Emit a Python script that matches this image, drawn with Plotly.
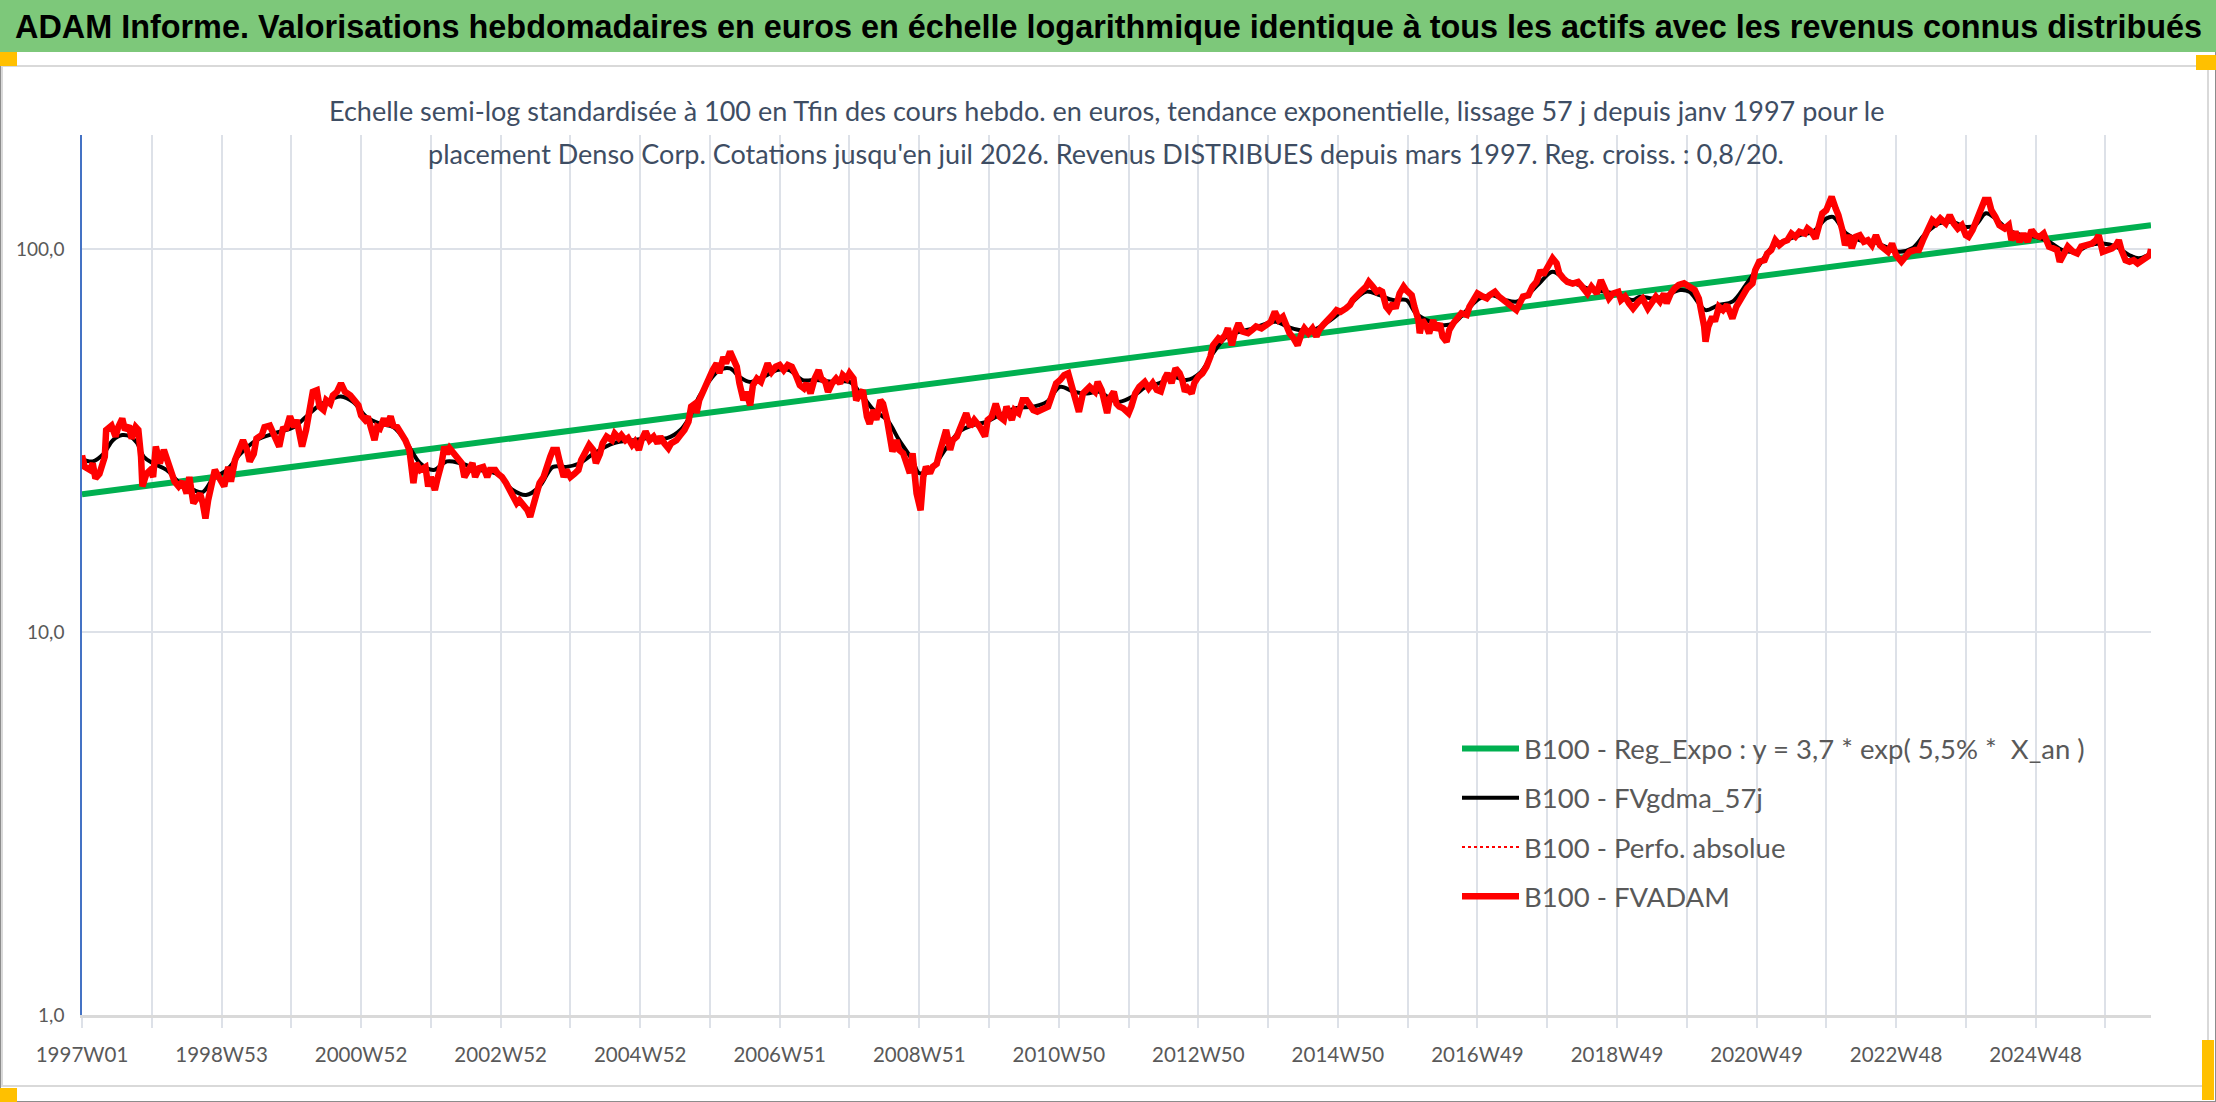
import plotly.graph_objects as go

# ---------------- DATA ----------------
# x = week index since 1997W01 ; values standardised to 100 at the end
tick_labels = ["1997W01", "1998W53", "2000W52", "2002W52", "2004W52", "2006W51", "2008W51",
               "2010W50", "2012W50", "2014W50", "2016W49", "2018W49", "2020W49", "2022W48", "2024W48"]
n_weeks = 1542

reg_weeks = [0, 1542]
reg_values = [22.9, 115.5]

fv_weeks = [
    0, 2, 6, 8, 10, 13, 17, 18, 22, 25,
    27, 30, 32, 35, 37, 40, 42, 44, 45, 48,
    51, 53, 55, 58, 61, 64, 66, 69, 72, 75,
    78, 80, 83, 86, 88, 90, 92, 94, 97, 99,
    102, 104, 106, 109, 111, 114, 117, 120, 123, 125,
    128, 130, 134, 136, 140, 143, 145, 147, 150, 152,
    155, 158, 160, 162, 164, 167, 169, 172, 175, 177,
    180, 182, 185, 187, 190, 193, 196, 200, 203, 206,
    208, 211, 213, 216, 218, 220, 222, 225, 227, 230,
    232, 235, 238, 241, 244, 246, 247, 249, 252, 256,
    258, 260, 263, 265, 268, 270, 272, 274, 277, 280,
    283, 285, 288, 291, 293, 296, 299, 302, 304, 308,
    310, 313, 316, 319, 322, 324, 326, 329, 332, 334,
    336, 339, 341, 344, 346, 349, 351, 354, 356, 359,
    361, 364, 367, 370, 372, 375, 378, 381, 383, 386,
    388, 391, 395, 397, 400, 402, 405, 407, 410, 412,
    415, 417, 420, 423, 426, 429, 431, 434, 437, 439,
    443, 446, 449, 452, 454, 457, 458, 460, 464, 467,
    470, 473, 475, 478, 480, 483, 485, 488, 490, 493,
    495, 498, 500, 503, 506, 508, 511, 514, 517, 520,
    523, 526, 529, 532, 535, 538, 540, 543, 546, 549,
    551, 554, 556, 559, 562, 565, 567, 570, 572, 575,
    577, 580, 582, 585, 587, 590, 592, 595, 597, 600,
    602, 604, 607, 609, 612, 614, 617, 619, 621, 622,
    625, 627, 629, 632, 634, 637, 639, 642, 644, 647,
    649, 652, 654, 657, 659, 662, 665, 669, 673, 675,
    678, 681, 684, 687, 689, 693, 695, 698, 701, 704,
    706, 709, 712, 716, 720, 723, 726, 729, 732, 735,
    737, 740, 743, 746, 749, 751, 755, 757, 760, 762,
    764, 766, 769, 771, 773,
    776, 780, 782, 785, 788, 792, 795, 798, 801, 804,
    807, 809, 812, 815, 818, 820, 822, 824, 827, 829,
    832, 835, 838, 841, 843, 847, 849, 852, 854, 857,
    859, 862, 865, 869, 872, 875, 879, 883, 886, 889,
    892, 895, 898, 900, 903, 906, 909, 911, 914, 917,
    920, 922, 925, 929, 932, 935, 938, 942, 945, 947,
    950, 953, 957, 959, 962, 965, 967, 969, 972, 974,
    977, 979, 982, 985, 987, 991, 993, 996, 997, 999,
    1002, 1004, 1007, 1009, 1012, 1014, 1017, 1019, 1022, 1025,
    1028, 1032, 1034, 1037, 1040, 1044, 1047, 1049, 1053, 1056,
    1059, 1063, 1066, 1069, 1071, 1074, 1078, 1081, 1084, 1087,
    1089, 1092, 1096, 1099, 1101, 1104, 1107, 1111, 1115, 1118,
    1122, 1125, 1129, 1132, 1135, 1138, 1141, 1145, 1147, 1150,
    1153, 1156, 1160,
    1163, 1167, 1170, 1173, 1176, 1179, 1181, 1184, 1187, 1190,
    1194, 1198, 1202, 1205, 1207, 1209, 1210, 1212, 1215, 1217,
    1220, 1223, 1226, 1228, 1230, 1233, 1235, 1238, 1241, 1245,
    1247, 1250, 1254, 1256, 1259, 1262, 1265, 1268, 1271, 1274,
    1277, 1280, 1284, 1286, 1289, 1292, 1294, 1297, 1300, 1302,
    1304, 1307, 1309, 1312, 1314, 1317, 1319, 1322, 1325, 1328,
    1331, 1334, 1337, 1340, 1343, 1346, 1349, 1352, 1356, 1359,
    1362, 1366, 1369, 1372, 1375, 1379, 1382, 1385, 1389, 1392,
    1395, 1398, 1401, 1404, 1406, 1409, 1412, 1415, 1418, 1421,
    1423, 1426, 1429, 1433, 1436, 1438, 1441, 1444, 1447, 1450,
    1453, 1456, 1459, 1462, 1466, 1469, 1472, 1474, 1477, 1480,
    1484, 1487, 1490, 1494, 1498, 1501, 1503, 1506, 1510, 1513,
    1516, 1518, 1520, 1523, 1526, 1529, 1532, 1535, 1538, 1541,
    1542,
]
fv_values = [
    28.9, 27.0, 26.5, 27.6, 25.2, 25.9, 28.7, 33.7, 34.6, 32.4,
    34.3, 36.1, 33.7, 34.6, 32.0, 34.3, 33.7, 28.7, 24.0, 25.9,
    26.5, 25.4, 30.5, 27.6, 29.9, 27.6, 26.5, 24.7, 24.0, 24.7,
    23.0, 25.4, 21.7, 22.5, 23.0, 21.7, 19.8, 22.1, 25.4, 26.5,
    25.4, 24.7, 24.0, 27.0, 24.7, 28.1, 29.9, 31.7, 29.9, 27.9,
    29.2, 32.0, 32.7, 34.3, 34.6, 33.0, 31.7, 30.5, 34.3, 33.7,
    36.6, 34.3, 35.8, 32.4, 30.5, 33.7, 38.0, 42.4, 42.8, 38.8,
    38.0, 40.3, 39.5, 41.5, 42.4, 44.6, 42.4, 41.5, 40.3, 39.1,
    36.8, 35.8, 36.5, 33.7, 31.7, 34.3, 34.0, 36.1, 34.6, 36.6,
    34.6, 34.3, 33.0, 31.7, 29.9, 26.5, 24.5, 27.6, 26.5, 27.0,
    24.0, 25.4, 23.5, 25.2, 27.6, 30.5, 29.2, 30.2, 29.2, 28.1,
    27.6, 25.4, 26.5, 27.6, 25.4, 26.8, 27.0, 25.4, 26.5, 26.5,
    25.9, 25.4, 24.5, 23.5, 22.5, 21.7, 22.1, 21.4, 20.8, 20.0,
    21.3, 23.0, 24.5, 25.4, 27.0, 28.7, 29.9, 29.9, 27.9, 25.4,
    26.5, 25.4, 25.9, 26.5, 28.1, 29.6, 30.8, 29.9, 27.6, 29.2,
    31.1, 32.4, 31.7, 33.0, 32.1, 32.7, 31.7, 32.1, 30.8, 31.4,
    29.9, 31.7, 33.4, 31.7, 32.4, 31.1, 32.4, 31.1, 30.2, 31.1,
    31.7, 32.7, 33.7, 35.4, 38.8, 39.5, 37.3, 40.3, 43.7, 46.4,
    48.3, 50.3, 47.4, 52.3, 50.3, 54.0, 52.3, 49.3, 44.6, 40.3,
    42.4, 39.1, 44.1, 45.9, 45.0, 46.9, 50.3, 47.8, 49.3, 49.8,
    48.3, 49.8, 49.3, 46.9, 44.1, 43.3, 44.6, 42.0, 45.9, 48.3,
    45.9, 45.0, 42.4, 44.6, 45.9, 44.6, 46.9, 45.9, 47.4, 45.9,
    40.3, 42.0, 42.8, 36.5, 35.0, 38.0, 35.8, 40.3, 39.5, 35.8,
    32.4, 29.6, 31.7, 29.9, 29.3, 27.5, 26.0, 29.3, 25.4, 23.0,
    20.8, 25.4, 27.0, 26.0, 27.0, 27.5, 29.3, 32.4, 33.7, 29.9,
    31.7, 32.4, 33.7, 35.8, 37.3, 34.4, 35.8, 34.4, 32.4, 35.8,
    36.5, 39.5, 36.5, 35.8, 38.8, 35.8, 38.0, 37.3, 40.3, 40.3,
    39.1, 38.0, 37.6, 38.4, 38.8, 41.6, 44.6, 45.5, 46.9, 47.4,
    44.6, 41.2, 37.6, 42.0, 42.8, 43.7, 42.4, 45.0, 42.8, 39.5,
    37.3, 40.8, 42.4, 39.5, 38.8,
    38.4, 37.3, 38.8, 42.0, 43.7, 45.0, 43.3, 44.7, 42.9, 42.5,
    46.0, 47.4, 44.7, 48.8, 47.4, 45.5, 42.5, 43.3, 42.0, 44.7,
    46.4, 47.4, 49.3, 52.4, 56.1, 58.5, 57.9, 59.7, 62.1, 56.1,
    60.3, 64.0, 60.9, 60.3, 61.5, 62.8, 62.1, 63.4, 64.6, 68.6,
    65.3, 66.6, 61.5, 60.3, 58.5, 56.1, 60.3, 62.1, 60.3, 62.1,
    59.1, 61.5, 63.4, 65.3, 67.3, 69.3, 68.6, 70.0, 71.5, 73.6,
    75.8, 77.4, 79.8, 82.1, 79.8, 77.4, 78.1, 77.4, 70.7, 69.3,
    72.2, 70.0, 76.6, 79.8, 78.1, 75.8, 70.7, 65.3, 60.3, 65.3,
    62.8, 60.3, 65.3, 61.5, 64.0, 59.1, 57.3, 61.5, 64.0, 66.0,
    68.0, 67.3, 70.7, 73.6, 76.6, 75.2, 74.4, 75.8, 77.4, 75.2,
    73.6, 72.2, 70.7, 69.3, 71.5, 75.2, 75.8, 79.8, 82.1, 88.1,
    85.6, 89.9, 94.6, 91.8, 86.5, 83.9, 82.1, 81.3, 82.1, 79.8,
    76.6, 79.8, 76.6, 83.0, 78.1, 74.4, 76.6, 77.4, 73.6, 75.2,
    72.2, 70.0, 72.9,
    74.3, 70.0, 72.9, 75.1, 72.9, 76.5, 72.2, 76.5, 79.0, 80.6,
    81.4, 79.8, 78.2, 74.3, 69.3, 62.7, 57.3, 62.7, 66.6, 64.7,
    70.8, 69.3, 71.5, 69.3, 65.9, 70.8, 72.9, 76.5, 79.0, 81.4,
    88.1, 92.7, 93.6, 97.4, 99.4, 105.5, 102.4, 104.5, 105.5, 109.8,
    107.7, 111.0, 109.8, 113.2, 111.0, 106.6, 114.3, 124.0, 126.4, 131.5,
    137.0, 127.6, 122.7, 112.1, 102.4, 108.7, 100.5, 107.7, 108.7, 104.5,
    105.5, 102.4, 108.7, 102.4, 100.5, 98.4, 103.4, 96.4, 92.7, 96.4,
    98.4, 99.4, 99.4, 105.5, 112.1, 119.0, 116.7, 120.2, 116.7, 122.7,
    116.7, 113.2, 115.5, 108.7, 107.7, 112.1, 119.0, 127.6, 134.3, 134.3,
    126.4, 121.4, 115.5, 113.2, 115.5, 105.5, 111.0, 104.5, 109.8, 104.5,
    112.1, 108.7, 107.7, 109.8, 101.5, 100.5, 99.4, 92.7, 97.4, 101.5,
    98.4, 97.4, 101.5, 102.4, 103.4, 105.5, 108.7, 98.4, 99.4, 100.5,
    102.4, 105.5, 99.4, 93.6, 92.7, 93.6, 91.8, 93.6, 94.6, 96.4,
    100.0,
]

gdma_weeks = [
    0, 8, 16, 23, 30, 36, 41, 46, 53, 63,
    73, 83, 90, 98, 108, 118, 130, 143, 158, 167,
    177, 187, 193, 202, 212, 222, 232, 242, 252, 262,
    272, 282, 297, 309, 321, 331, 341, 351, 361, 371,
    381, 396, 411, 423, 436, 446, 453, 460, 468, 475,
    483, 490, 498, 508, 518, 527, 537, 547, 560, 572,
    582, 590, 600, 609, 619, 624, 634, 644, 654, 664,
    674, 684, 696, 709, 719, 729, 739, 749, 758, 768,
    773, 783, 793, 803, 813, 823, 833, 843, 853, 863,
    873, 883, 890, 898, 907, 917, 927, 937, 947, 957,
    967, 977, 987, 994, 1002, 1012, 1022, 1032, 1042, 1051,
    1061, 1069, 1076, 1086, 1096, 1106, 1116, 1126, 1136, 1146,
    1156, 1161, 1171, 1181, 1191, 1198, 1205, 1210, 1220, 1230,
    1240, 1250, 1260, 1270, 1280, 1290, 1300, 1305, 1315, 1325,
    1335, 1344, 1354, 1364, 1374, 1384, 1394, 1404, 1411, 1419,
    1426, 1436, 1446, 1456, 1466, 1476, 1486, 1496, 1506, 1516,
    1526, 1533, 1542,
]
gdma_values = [
    28.3, 27.9, 29.2, 31.7, 32.7, 32.4, 31.2, 28.7, 27.6, 26.5,
    24.5, 23.5, 23.2, 25.2, 26.5, 29.2, 31.7, 33.0, 34.3, 36.5,
    39.1, 40.7, 41.2, 39.9, 36.5, 35.0, 34.3, 31.2, 27.6, 26.5,
    27.9, 27.6, 26.5, 25.9, 23.5, 22.8, 24.0, 27.0, 27.0, 27.6,
    29.2, 31.1, 31.7, 32.1, 32.1, 33.7, 36.5, 41.2, 45.5, 48.3,
    48.8, 46.4, 45.0, 46.4, 48.3, 48.3, 45.5, 45.5, 45.0, 45.0,
    41.2, 38.0, 35.8, 31.7, 28.1, 26.0, 27.0, 30.2, 33.4, 34.7,
    35.4, 36.9, 38.4, 38.8, 39.9, 43.7, 42.4, 42.0, 42.4, 40.3,
    39.9, 41.2, 43.7, 44.7, 46.4, 45.5, 47.4, 53.5, 59.1, 60.9,
    62.1, 64.0, 64.6, 62.8, 61.5, 61.5, 64.0, 68.0, 72.9, 77.4,
    75.8, 73.6, 73.6, 68.0, 65.3, 63.4, 64.0, 69.3, 74.4, 75.8,
    73.6, 72.9, 75.2, 81.3, 87.3, 83.0, 80.5, 78.1, 77.4, 75.8,
    73.6, 75.1, 74.3, 75.8, 78.2, 77.4, 72.2, 69.3, 71.5, 72.9,
    80.6, 90.8, 101.5, 105.5, 108.7, 111.0, 120.2, 121.4, 109.8, 105.5,
    104.5, 101.5, 98.4, 100.5, 109.8, 116.7, 117.8, 114.3, 115.5, 124.0,
    120.2, 112.1, 108.7, 107.7, 104.5, 99.4, 98.4, 102.4, 103.4, 101.5,
    96.4, 94.6, 97.4,
]

series_names = [
    "B100 - Reg_Expo : y = 3,7 * exp( 5,5% *  X_an )",
    "B100 - FVgdma_57j",
    "B100 - Perfo. absolue",
    "B100 - FVADAM",
]
title_text = ("ADAM Informe. Valorisations hebdomadaires en euros en échelle logarithmique "
              "identique à tous les actifs avec les revenus connus distribués")
subtitle_l1 = ("Echelle semi-log standardisée à 100 en Tfin des cours hebdo. en euros, tendance "
               "exponentielle, lissage 57 j depuis janv 1997 pour le")
subtitle_l2 = ("placement Denso Corp. Cotations jusqu'en juil 2026. Revenus DISTRIBUES depuis mars 1997. "
               "Reg. croiss. : 0,8/20.")

# ---------------- LAYOUT HELPERS ----------------
W, H = 2216, 1102
PL, PR, PT, PB = 82, 2151, 135, 1015


def px(x):
    return (x - PL) / (PR - PL)


def py(y):
    return (PB - y) / (PB - PT)


TXT = "Lato, Liberation Sans, sans-serif"
GRID = "#DDE1E8"

fig = go.Figure()
fig.add_trace(go.Scatter(x=reg_weeks, y=reg_values, mode="lines", name=series_names[0],
                         line=dict(color="#00B050", width=6), legendgroup="a"))
fig.add_trace(go.Scatter(x=gdma_weeks, y=gdma_values, mode="lines", name=series_names[1],
                         line=dict(color="#000000", width=4, shape="spline"), legendgroup="b"))
fig.add_trace(go.Scatter(x=fv_weeks, y=fv_values, mode="lines", name=series_names[2],
                         line=dict(color="#FF0000", width=2, dash="dot"), legendgroup="c"))
fig.add_trace(go.Scatter(x=fv_weeks, y=fv_values, mode="lines", name=series_names[3],
                         line=dict(color="#FF0000", width=6.5), legendgroup="d"))

tickvals = list(range(0, n_weeks + 1, 52))
ticktext = []
for i, _ in enumerate(tickvals):
    ticktext.append(tick_labels[i // 2] if i % 2 == 0 and i // 2 < len(tick_labels) else "")

fig.update_xaxes(range=[0, n_weeks], tickvals=tickvals, ticktext=ticktext,
                 showgrid=True, gridcolor=GRID, gridwidth=1.5,
                 ticks="outside", ticklen=10, tickcolor=GRID, tickwidth=1.5,
                 showline=True, linecolor="#D9D9D9", linewidth=2.5, zeroline=False,
                 tickfont=dict(family=TXT, size=20.5, color="#595959"), ticklabelstandoff=10)
fig.update_yaxes(type="log", range=[0, 2.298], tickvals=[1, 10, 100],
                 ticktext=["1,0", "10,0", "100,0"],
                 showgrid=True, gridcolor=GRID, gridwidth=1.5,
                 showline=True, linecolor="#4472C4", linewidth=1.5, zeroline=False,
                 ticks="", tickfont=dict(family=TXT, size=19, color="#595959"), ticklabelstandoff=12)

shapes = [
    # outer frame
    dict(type="rect", xref="paper", yref="paper", x0=px(0), x1=px(W), y0=py(H), y1=py(0),
         line=dict(color="#8C8C8C", width=2), fillcolor="rgba(0,0,0,0)", layer="below"),
    # green title bar
    dict(type="rect", xref="paper", yref="paper", x0=px(0), x1=px(W), y0=py(52), y1=py(0),
         line=dict(width=0), fillcolor="#7DC87A", layer="below"),
    # chart area frame
    dict(type="rect", xref="paper", yref="paper", x0=px(2), x1=px(2208), y0=py(1086), y1=py(66),
         line=dict(color="#D9D9D9", width=2), fillcolor="rgba(0,0,0,0)", layer="below"),
]
for (x0, y0, x1, y1) in [(0, 52, 17, 66), (2196, 55, 2216, 70), (0, 1088, 17, 1102), (2202, 1040, 2214, 1100)]:
    shapes.append(dict(type="rect", xref="paper", yref="paper", x0=px(x0), x1=px(x1), y0=py(y1), y1=py(y0),
                       line=dict(width=0), fillcolor="#FFC000", layer="above"))

annotations = [
    dict(text="<b>" + title_text + "</b>", xref="paper", yref="paper", x=px(13), y=py(27),
         xanchor="left", yanchor="middle", showarrow=False,
         font=dict(family="Liberation Sans, Arial, sans-serif", size=32.4, color="#000000")),
    dict(text=subtitle_l1, xref="paper", yref="paper", x=px(1106), y=py(111),
         xanchor="center", yanchor="middle", showarrow=False,
         font=dict(family=TXT, size=27, color="#3E4D63")),
    dict(text=subtitle_l2, xref="paper", yref="paper", x=px(1106), y=py(153),
         xanchor="center", yanchor="middle", showarrow=False,
         font=dict(family=TXT, size=27, color="#3E4D63")),
]

fig.update_layout(
    width=W, height=H,
    margin=dict(l=PL, r=W - PR, t=PT, b=H - PB, pad=0),
    paper_bgcolor="#FFFFFF", plot_bgcolor="#FFFFFF",
    shapes=shapes, annotations=annotations,
    showlegend=True,
    legend=dict(x=px(1457), y=py(724), xanchor="left", yanchor="top",
                bgcolor="rgba(255,255,255,0)", borderwidth=0,
                font=dict(family=TXT, size=27.5, color="#595959"),
                itemwidth=57, tracegroupgap=10.5, traceorder="grouped"),
)

fig.write_html("out.html", config={"displayModeBar": False},
               post_script="document.body.style.margin='0';document.body.style.overflow='hidden';")
